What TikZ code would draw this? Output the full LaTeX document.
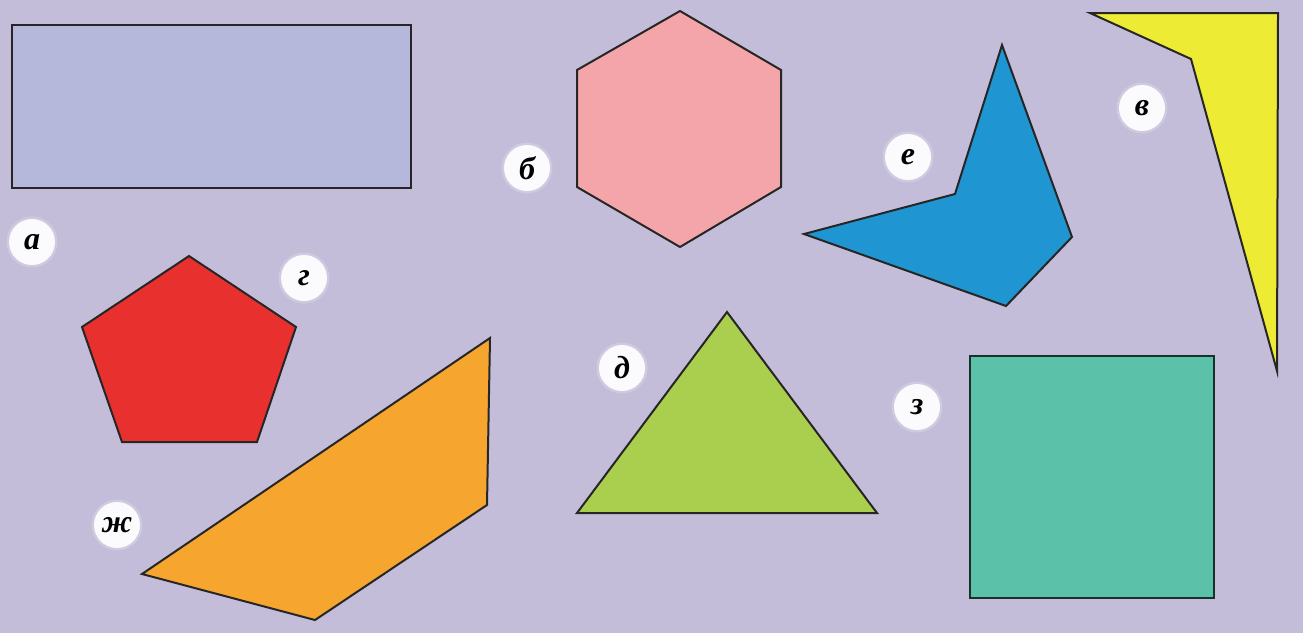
\documentclass[tikz,border=0pt]{standalone}
\usepackage{fontspec}
\newfontfamily\labelfont{Liberation Serif}
\usetikzlibrary{positioning}
\definecolor{bgcol}{HTML}{C4BDD9}
\definecolor{rectcol}{HTML}{B6B8DB}
\definecolor{hexcol}{HTML}{F3A5A9}
\definecolor{yelcol}{HTML}{EDEB34}
\definecolor{bluecol}{HTML}{1F95D2}
\definecolor{redcol}{HTML}{E8302F}
\definecolor{orcol}{HTML}{F6A62E}
\definecolor{grncol}{HTML}{AACF4F}
\definecolor{tealcol}{HTML}{5BC2A9}
\tikzset{
  figure/.style={draw=black!85, line width=2pt, line join=miter},
  tag/.style={circle, fill=white!94!bgcol, minimum size=46pt, inner sep=0pt,
    font=\labelfont\bfseries\itshape\fontsize{32}{32}\selectfont},
  halo/.style={circle, fill=white, opacity=0.2, minimum size=51pt, inner sep=0pt}
}
\begin{document}
\begin{tikzpicture}[x=1pt, y=-1pt]
  \useasboundingbox[fill=bgcol] (0,0) rectangle (1303,633);

  % shapes
  \draw[figure, fill=rectcol] (12,25) rectangle (411,188);
  \draw[figure, fill=hexcol] (680,11) -- (781,70) -- (781,187) -- (680,247)
    -- (577,187) -- (577,70) -- cycle;
  \draw[figure, fill=yelcol] (1090,13) -- (1278,13) -- (1277,371) -- (1191,59) -- cycle;
  \draw[figure, fill=bluecol] (1002,45) -- (1072,237) -- (1006,306) -- (804,234)
    -- (955,194) -- cycle;
  \draw[figure, fill=redcol] (189,256) -- (296,327) -- (257,442) -- (122,442)
    -- (82,327) -- cycle;
  \draw[figure, fill=orcol] (490,338) -- (487,505) -- (315,620) -- (142,574) -- cycle;
  \draw[figure, fill=grncol] (727,312) -- (877,513) -- (577,513) -- cycle;
  \draw[figure, line width=2.8pt, draw=black!75!tealcol, fill=tealcol]
    (970,356) rectangle (1214,598);

  % labels
  \foreach \p in {(32,242),(527,168),(1142,108),(908,157),(304,278),(622,368),(917,407),(117,525)}
    \node[halo] at \p {};
  \node[tag] (lblA) at (32,242) {а};
  \node[tag] (lblB) at (527,168) {б};
  \node[tag] (lblV) at (1142,108) {в};
  \node[tag] (lblE) at (908,157) {е};
  \node[tag] (lblG) at (304,278) {г};
  \node[tag] (lblD) at (622,368) {д};
  \node[tag] (lblZ) at (917,407) {з};
  \node[tag] (lblZh) at (117,525) {ж};
\end{tikzpicture}
\end{document}
